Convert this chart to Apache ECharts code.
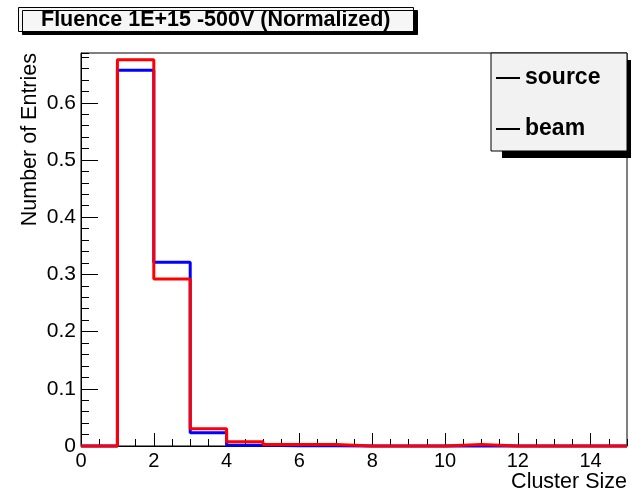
<!DOCTYPE html>
<html>
<head>
<meta charset="utf-8">
<script src="https://cdn.jsdelivr.net/npm/echarts@6/dist/echarts.min.js"></script>
<style>
html,body{margin:0;padding:0;background:#fff;}
#c{width:633px;height:492px;}
</style>
</head>
<body>
<div id="c"></div>
<script>
// Histogram bins: lower edges (width 1)
const binLow = [0, 1, 2, 3, 4, 5, 6, 7, 8, 9, 10, 11, 12, 13, 14];
const binWidth = 1;
// Normalized entries per bin
const sourceVals = [0, 0.657, 0.321, 0.023, 0.0015, 0.0005, 0.0005, 0, 0, 0, 0.0003, 0, 0, 0, 0];
const beamVals   = [0, 0.675, 0.292, 0.030, 0.0075, 0.0026, 0.0026, 0, 0, 0, 0.0026, 0, 0, 0, 0];
const xTicks = [0, 2, 4, 6, 8, 10, 12, 14];
const yTicks = [0, 0.1, 0.2, 0.3, 0.4, 0.5, 0.6];
const seriesNames = ['source', 'beam'];
const titleText = 'Fluence 1E+15 -500V (Normalized)';
const xName = 'Cluster Size';
const yName = 'Number of Entries';

function stepData(vals) {
  const d = binLow.map((x, i) => [x, vals[i]]);
  d.push([binLow[binLow.length - 1] + binWidth, vals[vals.length - 1]]);
  return d;
}

const FONT = 'Liberation Sans, Arial, Helvetica, sans-serif';
const chart = echarts.init(document.getElementById('c'), null, {renderer: 'canvas'});

const option = {
  backgroundColor: '#fff',
  animation: false,
  title: {
    text: titleText,
    left: 18, top: 7,
    padding: [2, 23, 1, 23],
    backgroundColor: '#f6f6f6',
    borderColor: '#000', borderWidth: 1,
    shadowColor: '#000', shadowOffsetX: 4, shadowOffsetY: 3, shadowBlur: 0,
    textStyle: {fontFamily: FONT, fontSize: 21.5, fontWeight: 'bold', color: '#000', lineHeight: 22}
  },
  grid: {left: 81, right: 6, top: 53, bottom: 46, show: true, borderColor: '#000', borderWidth: 1, backgroundColor: 'transparent'},
  xAxis: [{
    type: 'value', min: 0, max: 15, interval: 2, position: 'bottom',
    axisLine: {show: true, onZero: false, lineStyle: {color: '#000', width: 1}},
    axisTick: {show: true, inside: true, length: 13, lineStyle: {color: '#000', width: 1}},
    axisLabel: {show: true, color: '#000', fontFamily: FONT, fontSize: 20, margin: 5, showMaxLabel: false,
      formatter: v => xTicks.indexOf(v) >= 0 ? String(v) : ''},
    splitLine: {show: false}
  }, {
    type: 'value', min: 0, max: 15, interval: 0.5, position: 'bottom', offset: 0,
    axisLine: {show: false},
    axisTick: {show: true, inside: true, length: 7, lineStyle: {color: '#000', width: 1}},
    axisLabel: {show: false}, splitLine: {show: false}
  }],
  yAxis: [{
    type: 'value', min: 0, max: 0.687, interval: 0.1, position: 'left',
    axisLine: {show: true, onZero: false, lineStyle: {color: '#000', width: 1}},
    axisTick: {show: true, inside: true, length: 17, lineStyle: {color: '#000', width: 1}},
    axisLabel: {show: true, color: '#000', fontFamily: FONT, fontSize: 21, margin: 5, showMaxLabel: false,
      formatter: v => {
        const t = yTicks.find(y => Math.abs(y - v) < 1e-9);
        return t === undefined ? '' : String(t);
      }},
    splitLine: {show: false}
  }, {
    type: 'value', min: 0, max: 0.687, interval: 0.02, position: 'left', offset: 0,
    axisLine: {show: false},
    axisTick: {show: true, inside: true, length: 8, lineStyle: {color: '#000', width: 1}},
    axisLabel: {show: false}, splitLine: {show: false}
  }],
  legend: {
    data: seriesNames,
    orient: 'vertical',
    left: 496, top: 66,
    padding: 0,
    itemWidth: 24, itemHeight: 2,
    itemGap: 27,
    icon: 'rect',
    itemStyle: {color: '#000', borderWidth: 0},
    textStyle: {fontFamily: FONT, fontSize: 23, fontWeight: 'bold', color: '#000', lineHeight: 24},
    selectedMode: false,
    z: 10
  },
  graphic: [
    // legend box shadow and box
    {type: 'rect', z: 5, shape: {x: 502, y: 60, width: 129, height: 98}, style: {fill: '#000'}},
    {type: 'rect', z: 6, shape: {x: 491, y: 53, width: 136, height: 98}, style: {fill: '#f2f2f2', stroke: '#000', lineWidth: 1}},
    // axis titles
    {type: 'text', z: 6, x: 30, y: 53, rotation: Math.PI / 2,
      style: {text: yName, fontFamily: FONT, fontSize: 21.5, fill: '#000', align: 'right', verticalAlign: 'middle'}},
    {type: 'text', z: 6, x: 627, y: 482,
      style: {text: xName, fontFamily: FONT, fontSize: 21.5, fill: '#000', align: 'right', verticalAlign: 'middle'}}
  ],
  series: [{
    name: seriesNames[0], type: 'line', step: 'end', symbol: 'none', clip: false,
    xAxisIndex: 0, yAxisIndex: 0,
    data: stepData(sourceVals),
    lineStyle: {color: '#0000ff', width: 3},
    itemStyle: {color: '#0000ff'},
    z: 3
  }, {
    name: seriesNames[1], type: 'line', step: 'end', symbol: 'none', clip: false,
    xAxisIndex: 0, yAxisIndex: 0,
    data: stepData(beamVals),
    lineStyle: {color: '#ff0000', width: 3},
    itemStyle: {color: '#ff0000'},
    z: 4
  }]
};
chart.setOption(option);
</script>
</body>
</html>
